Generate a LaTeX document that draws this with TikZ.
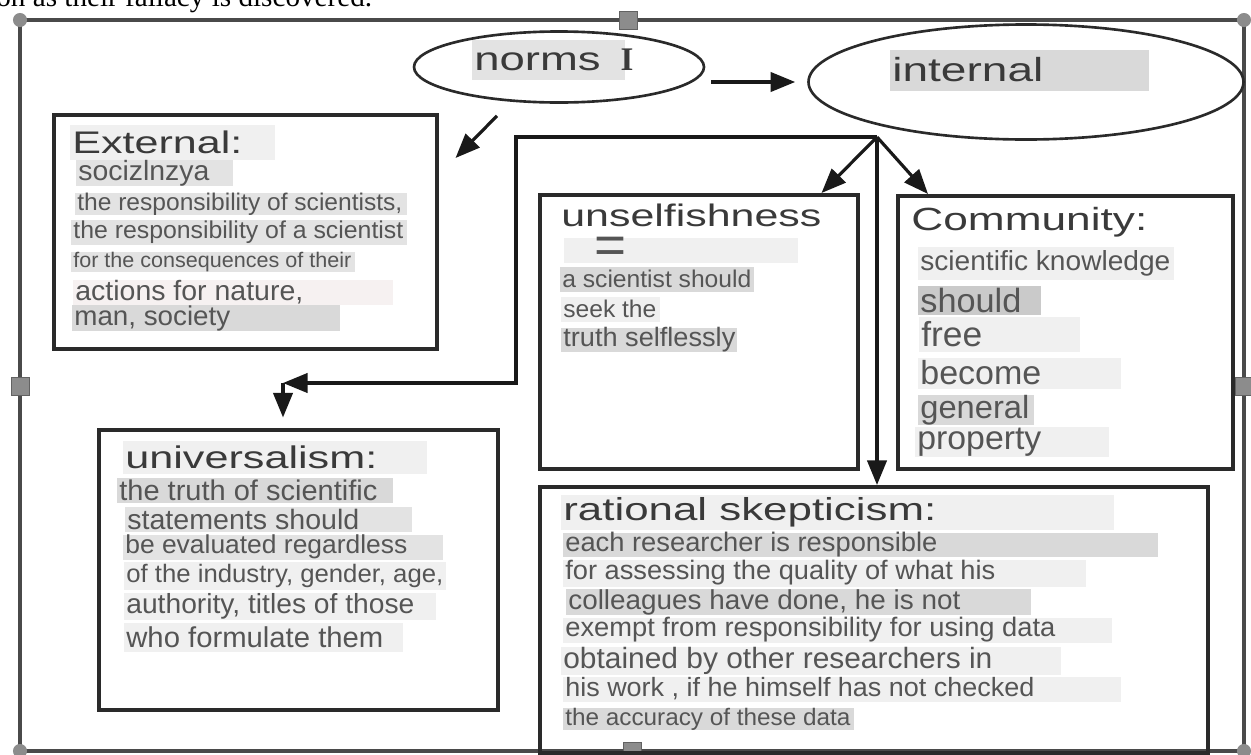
\documentclass[tikz,border=0pt]{standalone}
\usepackage{fontspec}
\usepackage{graphicx}
\setmainfont{Liberation Sans}
\newfontfamily\bodyfont{Liberation Sans}[FakeStretch=1.02]
\newfontfamily\headfont{Liberation Sans}[FakeStretch=1.38]
\newfontfamily\pagefont{Liberation Serif}
\usetikzlibrary{arrows.meta,calc,positioning,shapes.geometric}
\definecolor{Frame}{HTML}{4A4A4A}
\definecolor{Edge}{HTML}{2A2A2A}
\definecolor{Ink}{HTML}{555555}
\definecolor{HeadInk}{HTML}{3A3A3A}
\definecolor{Handle}{HTML}{8C8C8C}
\definecolor{Pale}{HTML}{F0F0F0}
\definecolor{Mid}{HTML}{E3E3E3}
\definecolor{Dark}{HTML}{D9D9D9}
\definecolor{Deep}{HTML}{CACACA}
\definecolor{Blush}{HTML}{F6F1F1}
\newlength\pxu
\setlength\pxu{0.02cm}
\newcommand\head{\headfont\color{HeadInk}}
% one shaded line of text: name, left, middle, band width, band height, fill, text width, text
\newcommand\band[8]{%
  \node[band, fill=#6, minimum height=#5*0.02cm] (#1) at (#2,#3)
    {\makebox[#4\pxu][l]{\kern2\pxu\resizebox{#7\pxu}{!}{#8}}};}
\tikzset{
  band/.style={anchor=west, inner xsep=0pt, inner ysep=0pt, text=Ink,
    font=\bodyfont\fontsize{12}{14}\selectfont},
  box/.style={draw=Edge, line width=2pt, anchor=north west, inner sep=0pt},
  oval/.style={ellipse, draw=Edge, line width=1.5pt, inner sep=0pt},
  arr/.style={draw=black!90, line width=1.8pt, -{Triangle[length=14pt,width=11pt]}},
  handle/.style={fill=Handle, draw=Handle!70!black, line width=0.4pt}
}

\begin{document}
\begin{tikzpicture}[x=0.02cm, y=-0.02cm]
  \useasboundingbox (0,0) rectangle (1251,754);
  \clip (0,0) rectangle (1251,754);
  \node[anchor=base west, inner sep=0pt, font=\pagefont\fontsize{16.6}{18}\selectfont]
    (tail) at (-4,6) {on as their fallacy is discovered.};

  % canvas frame with its handles
  \draw[Frame, line width=1.9pt] (20,20) rectangle (1244,751);
  \foreach \p in {(20,20),(1244,20),(20,751),(1244,751)}
    \fill[Handle] \p circle (4pt);
  \foreach \p in {(628,20),(20,386),(1244,386),(632,751)}
    \filldraw[handle] \p ++(-9,-9) rectangle ++(18,18);

  % ovals and boxes
  \node[oval, minimum width=290*0.02cm, minimum height=71*0.02cm] (norms) at (559,67) {};
  \node[oval, minimum width=435*0.02cm, minimum height=115*0.02cm] (internal) at (1026,82) {};
  \node[box, minimum width=383*0.02cm, minimum height=234*0.02cm] (ext) at (52,113) {};
  \node[box, minimum width=318*0.02cm, minimum height=274*0.02cm] (unself) at (538,193) {};
  \node[box, minimum width=335*0.02cm, minimum height=273*0.02cm] (comm) at (896,194) {};
  \node[box, minimum width=399*0.02cm, minimum height=280*0.02cm] (univ) at (97,428) {};
  \node[box, minimum width=668*0.02cm, minimum height=266*0.02cm] (skep) at (538,485) {};

  \band{normsT}{472}{60}{153}{40}{Mid}{159}{\head norms\hspace{.6em}{\pagefont\bfseries I}}
  \band{intT}{890}{70}{259}{41}{Dark}{151}{\head internal}

  \band{extT}{70}{142}{205}{35}{Pale}{170}{\head External:}
  \band{ext1}{76}{173}{157}{20}{Mid}{131}{socizlnzya}
  \band{ext2}{75}{204}{332}{22}{Mid}{325}{the responsibility of scientists,}
  \band{ext3}{71}{232}{336}{25}{Mid}{330}{the responsibility of a scientist}
  \band{ext4}{71}{262}{284}{20}{Mid}{278}{for the consequences of their}
  \band{ext5}{73}{292}{320}{25}{Blush}{228}{actions for nature,}
  \band{ext6}{72}{318}{268}{23}{Dark}{156}{man, society}

  \band{unsT}{559}{215}{262}{30}{none}{260}{\head unselfishness}
  \node[band, fill=Pale, minimum width=234*0.02cm, minimum height=25*0.02cm] (uns1) at (564,250) {};
  \node[band] (eq) at (594,250) {\resizebox{32\pxu}{!}{=}};
  \band{uns2}{560}{279}{194}{25}{Dark}{189}{a scientist should}
  \band{uns3}{561}{309}{99}{25}{Pale}{93}{seek the}
  \band{uns4}{561}{340}{176}{24}{Dark}{172}{truth selflessly}

  \band{comT}{909}{222}{240}{36}{none}{236}{\head Community:}
  \band{com1}{918}{263}{256}{33}{Pale}{250}{scientific knowledge}
  \band{com2}{918}{300}{123}{29}{Deep}{101}{should}
  \band{com3}{919}{334}{161}{35}{Pale}{61}{free}
  \band{com4}{918}{373}{203}{31}{Pale}{121}{become}
  \band{com5}{918}{410}{116}{30}{Dark}{109}{general}
  \band{com6}{915}{442}{194}{30}{Pale}{124}{property}

  \band{uniT}{123}{457}{304}{33}{Pale}{252}{\head universalism:}
  \band{uni1}{117}{490}{276}{25}{Dark}{258}{the truth of scientific}
  \band{uni2}{125}{519}{287}{25}{Mid}{232}{statements should}
  \band{uni3}{123}{547}{320}{25}{Mid}{282}{be evaluated regardless}
  \band{uni4}{124}{576}{322}{28}{Pale}{317}{of the industry, gender, age,}
  \band{uni5}{124}{606}{312}{27}{Pale}{288}{authority, titles of those}
  \band{uni6}{124}{637}{279}{29}{Pale}{257}{who formulate them}

  \band{skeT}{561}{512}{553}{35}{Pale}{373}{\head rational skepticism:}
  \band{ske1}{563}{545}{595}{24}{Dark}{372}{each researcher is responsible}
  \band{ske2}{563}{573}{523}{27}{Pale}{430}{for assessing the quality of what his}
  \band{ske3}{566}{602}{465}{21}{Dark}{392}{colleagues have done, he is not}
  \band{ske4}{563}{630}{549}{25}{Pale}{490}{exempt from responsibility for using data}
  \band{ske5}{561}{661}{500}{28}{Pale}{429}{obtained by other researchers in}
  \band{ske6}{563}{689}{558}{25}{Pale}{469}{his work , if he himself has not checked}
  \band{ske7}{563}{719}{291}{22}{Dark}{285}{the accuracy of these data}

  % connectors
  \coordinate (hub) at (877,137);
  \coordinate (bend) at (283,383);
  \draw[arr] ($(norms.east)+(6,15)$) -- ($(internal.west)+(-12,0)$);
  \draw[arr] ($(norms.south)+(-62,12)$) -- ($(ext.north east)+(17,45)$);
  \draw[arr] (hub) -- ($(unself.north east)+(-38,0)$);
  \draw[arr] (hub) -- ($(comm.north west)+(32,0)$);
  \draw[arr] (hub) -- (hub |- skep.north);
  \draw[arr] (hub) -- ++(-361,0) |- (bend);
  \draw[arr, shorten >=6pt] (bend) -- (bend |- univ.north);
\end{tikzpicture}
\end{document}
